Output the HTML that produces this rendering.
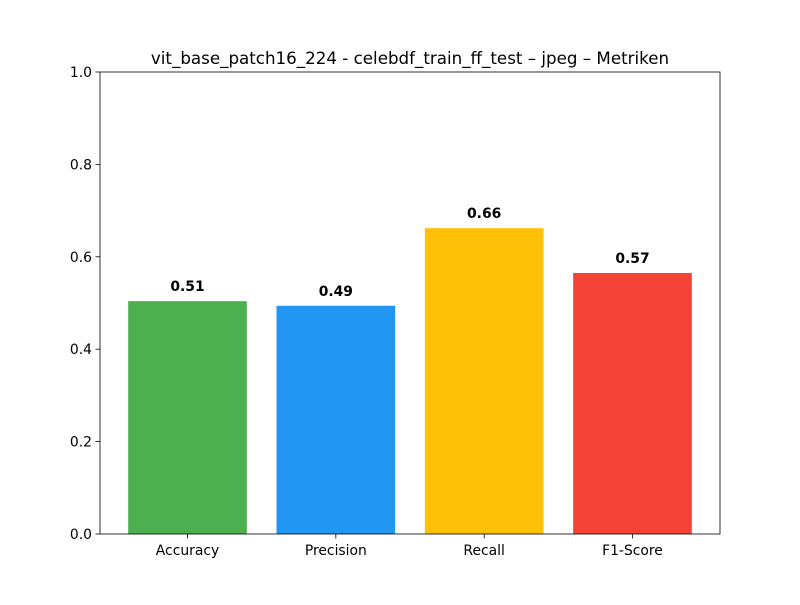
<!DOCTYPE html>
<html><head><meta charset="utf-8"><style>body{margin:0;background:#fff}svg text{font-family:"DejaVu Sans","Liberation Sans",sans-serif}</style></head>
<body>
<svg id="chart" width="800" height="600" xmlns="http://www.w3.org/2000/svg">
<rect width="800" height="600" fill="#fff"/>
<text x="410" y="64" text-anchor="middle" font-size="16.7">vit_base_patch16_224 - celebdf_train_ff_test – jpeg – Metriken</text>
<g id="plot"></g>
</svg>
<script>
const categories = ["Accuracy","Precision","Recall","F1-Score"];
const values = [0.504, 0.494, 0.662, 0.565];
const valueLabels = ["0.51","0.49","0.66","0.57"];
const colors = ["#4CAF50","#2196F3","#FFC107","#F44336"];
const yTicks = [0,0.2,0.4,0.6,0.8,1.0];
const yTickLabels = ["0.0","0.2","0.4","0.6","0.8","1.0"];

const L=100,R=720,T=72,B=534;
const xmin=-0.59,xmax=3.59;
const xs=v=>L+(v-xmin)/(xmax-xmin)*(R-L);
const ys=v=>B-v*(B-T);
const g=document.getElementById('plot');
const NS='http://www.w3.org/2000/svg';
function mk(tag,attrs){const e=document.createElementNS(NS,tag);for(const k in attrs)e.setAttribute(k,attrs[k]);g.appendChild(e);return e;}
values.forEach((v,i)=>{
  const r=mk('rect',{x:xs(i-0.4),y:ys(v),width:xs(i+0.4)-xs(i-0.4),height:B-ys(v),fill:colors[i]});
  
  
  const t=mk('text',{x:xs(i),y:ys(v)-10,'text-anchor':'middle','font-size':'13.9','font-weight':'bold'});
  t.textContent=valueLabels[i];
  
  
  const tk=mk('line',{x1:xs(i),x2:xs(i),y1:B,y2:B+4.5,stroke:'#000','stroke-width':0.8});
  
  
  const tl=mk('text',{x:xs(i),y:B+21,'text-anchor':'middle','font-size':'13.9'});
  tl.textContent=categories[i];
  
  
});
yTicks.forEach((v,i)=>{
  const tk=mk('line',{x1:L-4.5,x2:L,y1:ys(v),y2:ys(v),stroke:'#000','stroke-width':0.8});
  
  
  const tl=mk('text',{x:L-8,y:ys(v)+5,'text-anchor':'end','font-size':'13.9'});
  tl.textContent=yTickLabels[i];
  
  
});
const fr=mk('rect',{x:L,y:T,width:R-L,height:B-T,fill:'none',stroke:'#000','stroke-width':0.8});


</script>
</body></html>
